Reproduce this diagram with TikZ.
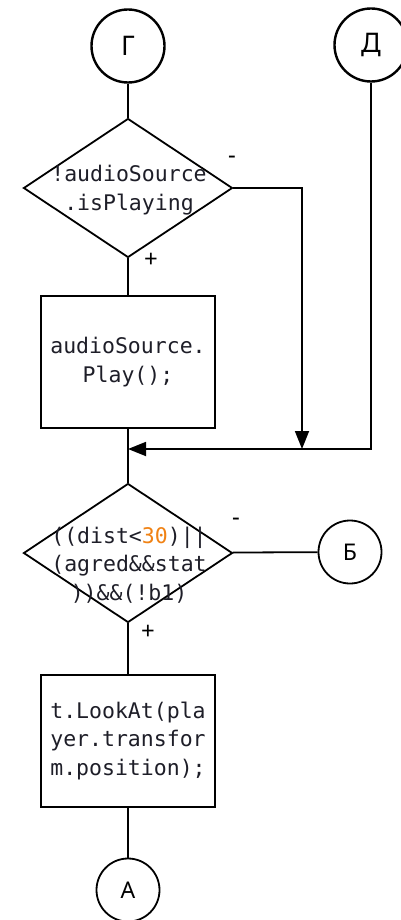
\documentclass[tikz,border=0pt]{standalone}
\usepackage{fontspec}
\setmainfont{Noto Sans}
\setmonofont{DejaVu Sans Mono}
\usetikzlibrary{shapes.geometric,arrows.meta}
\definecolor{codetext}{RGB}{30,30,40}
\definecolor{codenum}{RGB}{240,130,20}
\newcommand\blockfont{\ttfamily\fontsize{21.5}{28.5}\selectfont}

\begin{document}
\begin{tikzpicture}[x=1pt, y=-1pt, line width=1.8pt,
            conn/.style={circle, draw, minimum size=63pt, inner sep=0pt, font=\fontsize{23}{23}\selectfont},
            bigconn/.style={conn, line width=2.4pt, minimum size=73pt, font=\fontsize{27}{27}\selectfont},
            cond/.style={diamond, draw, minimum width=209pt, minimum height=139pt, inner sep=0pt},
            code/.style={align=center, text=codetext, font=\blockfont, inner sep=0pt},
            stmt/.style={rectangle, draw, minimum width=174pt, minimum height=132pt, inner sep=2pt, align=center, text=codetext, font=\blockfont},
            sign/.style={font=\fontsize{24}{24}\selectfont, inner sep=0pt},
            flow/.style={-{Triangle[length=18pt,width=14pt]}}
        ]
    \useasboundingbox (0,0) rectangle (401,920);

    \node[bigconn] (g)  at (128,46) {Г};
    \node[bigconn] (dd) at (371,45) {Д};

    \node[cond] (d1) at (128,188) {};
    \node[code] (d1txt) at (129,190) {!audioSource\\.isPlaying};
    \node[stmt] (r1) at (128,362) {audioSource.\\Play();};

    \node[cond] (d2) at (128,553) {};
    \node[code] (d2txt) at (129,565) {((dist<\textcolor{codenum}{30})||\\(agred\&\&stat\\))\&\&(!b1)};
    \node[conn] (b) at (350,552) {Б};

    \node[stmt] (r2) at (128,741) {t.LookAt(pla\\yer.transfor\\m.position);};
    \node[conn] (a) at (128,890) {А};

    \node[sign] (n1) at (232,160) {-};
    \node[sign] (p1) at (151,260) {+};
    \node[sign] (n2) at (236,522) {-};
    \node[sign] (p2) at (148,632) {+};

    \coordinate (m1) at (302,449);
    \coordinate (m2) at (128,449);

    \draw (g) -- (d1);
    \draw (d1) -- (r1);
    \draw[flow] (d1.east) -| (m1);
    \draw[flow] (dd) |- (m2);
    \draw (r1) -- (d2);
    \draw (d2) -- (b);
    \draw (d2) -- (r2);
    \draw (r2) -- (a);

\end{tikzpicture}
\end{document}
